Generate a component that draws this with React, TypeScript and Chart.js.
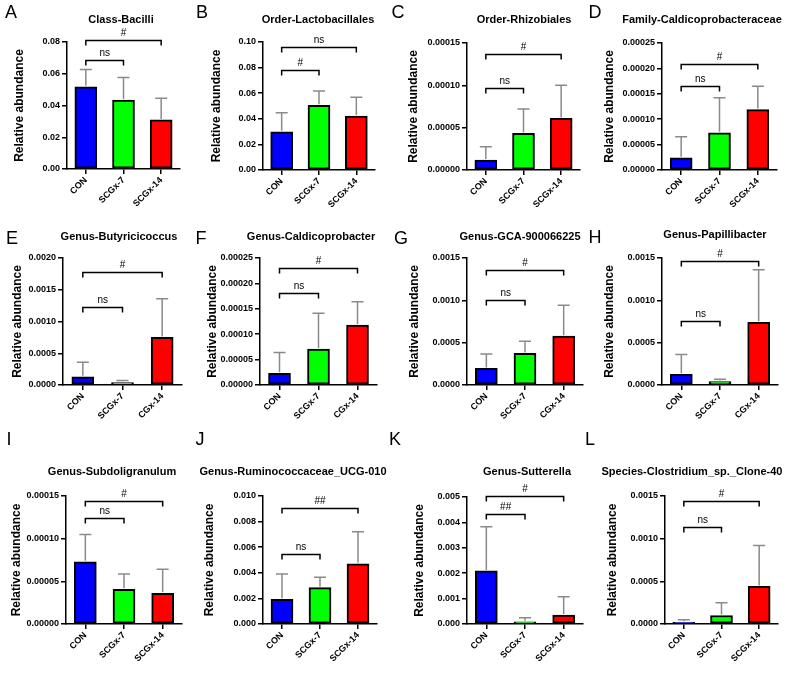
import React, { useEffect, useRef } from 'react';
import { Chart, registerables } from 'chart.js';
Chart.register(...registerables);

const FONT = "Arial, 'Liberation Sans', Helvetica, sans-serif";

// ---- categories ----
const groups = ['CON', 'SCGx-7', 'SCGx-14'];
const groupsAlt = ['CON', 'SCGx-7', 'CGx-14'];
const barColors = ['#0000FF', '#00FF00', '#FF0000'];

// ---- panel letters & titles ----
const letters = ['A', 'B', 'C', 'D', 'E', 'F', 'G', 'H', 'I', 'J', 'K', 'L'];
const titles = [
  'Class-Bacilli',
  'Order-Lactobacillales',
  'Order-Rhizobiales',
  'Family-Caldicoprobacteraceae',
  'Genus-Butyricicoccus',
  'Genus-Caldicoprobacter',
  'Genus-GCA-900066225',
  'Genus-Papillibacter',
  'Genus-Subdoligranulum',
  'Genus-Ruminococcaceae_UCG-010',
  'Genus-Sutterella',
  'Species-Clostridium_sp._Clone-40',
];

// ---- series values (mean) and SD ----
const meanA = [0.0518, 0.0434, 0.0309];
const sdA = [0.0109, 0.0143, 0.0136];
const meanB = [0.0299, 0.0506, 0.0421];
const sdB = [0.0148, 0.0112, 0.0148];
const meanC = [0.0000118, 0.0000432, 0.0000609];
const sdC = [0.0000157, 0.0000287, 0.0000391];
const meanD = [0.0000242, 0.0000733, 0.000119];
const sdD = [0.0000412, 0.0000687, 0.000046];
const meanE = [0.00013, 0.00004, 0.00075];
const sdE = [0.00023, 0.00003, 0.00061];
const meanF = [0.0000229, 0.0000707, 0.000118];
const sdF = [0.0000412, 0.0000703, 0.000046];
const meanG = [0.000196, 0.000373, 0.000577];
const sdG = [0.000169, 0.000145, 0.000365];
const meanH = [0.000126, 0.00004, 0.00074];
const sdH = [0.000234, 0.000027, 0.00062];
const meanI = [0.000073, 0.0000406, 0.0000359];
const sdI = [0.000032, 0.000018, 0.0000282];
const meanJ = [0.00193, 0.00284, 0.0047];
const sdJ = [0.00197, 0.00081, 0.0025];
const meanK = [0.00209, 0.00009, 0.00035];
const sdK = [0.00174, 0.00016, 0.00072];
const meanL = [0.00002, 0.0001, 0.00044];
const sdL = [0.00003, 0.00015, 0.00048];

// ---- y axis tick settings: [max, step, decimals] ----
const yMax = [0.08, 0.1, 0.00015, 0.00025, 0.002, 0.00025, 0.0015, 0.0015, 0.00015, 0.01, 0.005, 0.0015];
const yStep = [0.02, 0.02, 0.00005, 0.00005, 0.0005, 0.00005, 0.0005, 0.0005, 0.00005, 0.002, 0.001, 0.0005];
const yDecimals = [2, 2, 5, 5, 4, 5, 4, 4, 5, 3, 3, 4];

// ---- significance brackets: [fromIndex, toIndex, level, label] ----
const bracketsA = [[0, 1, 0.0685, 'ns'], [0, 2, 0.081, '#']];
const bracketsB = [[0, 1, 0.0784, '#'], [0, 2, 0.0961, 'ns']];
const bracketsC = [[0, 1, 0.0000974, 'ns'], [0, 2, 0.0001374, '#']];
const bracketsD = [[0, 1, 0.000165, 'ns'], [0, 2, 0.000208, '#']];
const bracketsE = [[0, 1, 0.00123, 'ns'], [0, 2, 0.00178, '#']];
const bracketsF = [[0, 1, 0.000181, 'ns'], [0, 2, 0.00023, '#']];
const bracketsG = [[0, 1, 0.001, 'ns'], [0, 2, 0.00136, '#']];
const bracketsH = [[0, 1, 0.000758, 'ns'], [0, 2, 0.00147, '#']];
const bracketsI = [[0, 1, 0.000124, 'ns'], [0, 2, 0.000144, '#']];
const bracketsJ = [[0, 1, 0.00544, 'ns'], [0, 2, 0.00904, '##']];
const bracketsK = [[0, 1, 0.00435, '##'], [0, 2, 0.00504, '#']];
const bracketsL = [[0, 1, 0.00114, 'ns'], [0, 2, 0.00144, '#']];

const means = [meanA, meanB, meanC, meanD, meanE, meanF, meanG, meanH, meanI, meanJ, meanK, meanL];
const sds = [sdA, sdB, sdC, sdD, sdE, sdF, sdG, sdH, sdI, sdJ, sdK, sdL];
const brackets = [bracketsA, bracketsB, bracketsC, bracketsD, bracketsE, bracketsF, bracketsG, bracketsH, bracketsI, bracketsJ, bracketsK, bracketsL];
const labelSets = [groups, groups, groups, groups, groupsAlt, groupsAlt, groupsAlt, groupsAlt, groups, groups, groups, groups];

// ---- layout (page pixels) ----
const colLeft = [0, 195, 390, 585];
const colWidth = [195, 195, 195, 206];
const rowTop = [0, 220, 428];
const rowHeight = [220, 208, 245];
// plot area: [left, top, right, bottom]
const areas = [
  [67, 42, 180, 169], [263, 42, 375, 170], [467, 43, 580, 170], [662, 43, 777, 170],
  [63, 258, 182, 385], [260, 258, 377, 385], [467, 258, 583, 385], [662, 258, 778, 385],
  [66, 496, 182, 624], [263, 496, 377, 624], [467, 497, 583, 624], [665, 496, 778, 624],
];
const yTitleX = [20, 217, 414, 610, 18, 213, 415, 610, 17, 210, 420, 613];
const titlePos = [
  [121, 20], [318, 20], [524, 20], [702, 20],
  [119, 237], [311, 237], [520, 237], [715, 235],
  [112, 472], [293, 472], [527, 472], [692, 472],
];
const letterPos = [
  [11, 13], [202, 13], [398, 13], [595, 13],
  [12, 239], [201, 239], [401, 239], [595, 238],
  [9, 440], [200, 440], [395, 440], [590, 440],
];

const annotPlugin = {
  id: 'annot',
  afterDatasetsDraw(chart: any) {
    const o = chart.options.plugins.annot;
    if (!o) return;
    const ctx = chart.ctx;
    const xs = chart.scales.x;
    const ys = chart.scales.y;
    ctx.save();
    // error bars (upper only)
    ctx.strokeStyle = '#8a8a8a';
    ctx.lineWidth = 1.5;
    o.mean.forEach((m: number, i: number) => {
      const x = xs.getPixelForValue(i);
      const y0 = ys.getPixelForValue(m);
      const y1 = ys.getPixelForValue(m + o.sd[i]);
      ctx.beginPath();
      ctx.moveTo(x, y0 - 1);
      ctx.lineTo(x, y1);
      ctx.moveTo(x - 6, y1);
      ctx.lineTo(x + 6, y1);
      ctx.stroke();
    });
    // brackets
    ctx.strokeStyle = '#000';
    ctx.lineWidth = 1.5;
    ctx.fillStyle = '#000';
    ctx.textAlign = 'center';
    ctx.textBaseline = 'bottom';
    o.brackets.forEach((b: any) => {
      const xa = xs.getPixelForValue(b[0]);
      const xb = xs.getPixelForValue(b[1]);
      const y = Math.round(ys.getPixelForValue(b[2])) + 0.5;
      ctx.beginPath();
      ctx.moveTo(xa, y + 5);
      ctx.lineTo(xa, y);
      ctx.lineTo(xb, y);
      ctx.lineTo(xb, y + 5);
      ctx.stroke();
      ctx.font = `10px ${FONT}`;
      ctx.fillText(b[3], (xa + xb) / 2, y - 2);
    });
    ctx.restore();
  },
  afterDraw(chart: any) {
    const o = chart.options.plugins.annot;
    if (!o) return;
    const ctx = chart.ctx;
    ctx.save();
    ctx.fillStyle = '#000';
    ctx.textBaseline = 'middle';
    ctx.textAlign = 'center';
    ctx.font = `18px ${FONT}`;
    ctx.fillText(o.letter, o.letterX, o.letterY);
    ctx.font = `bold 11px ${FONT}`;
    ctx.fillText(o.title, o.titleX, o.titleY);
    ctx.restore();
  },
};

function Panel({ idx }: { idx: number }) {
  const ref = useRef<HTMLCanvasElement>(null);
  const col = idx % 4;
  const row = Math.floor(idx / 4);
  const left = colLeft[col];
  const top = rowTop[row];
  const w = colWidth[col];
  const h = rowHeight[row];

  useEffect(() => {
    const [aL, aT, aR, aB] = areas[idx];
    const titleHalf = 12 * 1.2 / 2;
    const padL = yTitleX[idx] - left - titleHalf;
    const yW = aL - left - padL;
    const xH = top + h - aB;
    const dec = yDecimals[idx];
    const chart = new Chart(ref.current as HTMLCanvasElement, {
      type: 'bar',
      data: {
        labels: labelSets[idx],
        datasets: [
          {
            data: means[idx],
            backgroundColor: barColors,
            borderColor: '#000',
            borderWidth: 2,
            borderSkipped: false,
            barThickness: 22,
          },
        ],
      },
      plugins: [annotPlugin],
      options: {
        responsive: false,
        animation: false,
        devicePixelRatio: 1,
        layout: { padding: { left: padL, top: aT - top, right: left + w - aR, bottom: 0 } },
        plugins: {
          legend: { display: false },
          tooltip: { enabled: false },
          annot: {
            mean: means[idx],
            sd: sds[idx],
            brackets: brackets[idx],
            letter: letters[idx],
            letterX: letterPos[idx][0] - left,
            letterY: letterPos[idx][1] - top,
            title: titles[idx],
            titleX: titlePos[idx][0] - left,
            titleY: titlePos[idx][1] - top,
          },
        } as any,
        scales: {
          x: {
            type: 'category',
            offset: true,
            grid: {
              display: true,
              offset: false,
              drawOnChartArea: false,
              drawTicks: true,
              tickLength: 5,
              color: '#000',
              lineWidth: 1.5,
            },
            border: { display: true, color: '#000', width: 1.5 },
            ticks: {
              autoSkip: false,
              minRotation: 45,
              maxRotation: 45,
              color: '#000',
              padding: 1,
              font: { family: FONT, size: 9, weight: 'bold' },
            },
            afterFit: (s: any) => {
              s.height = xH;
            },
          },
          y: {
            min: 0,
            max: yMax[idx],
            grid: {
              display: true,
              drawOnChartArea: false,
              drawTicks: true,
              tickLength: 5,
              color: '#000',
              lineWidth: 1.5,
            },
            border: { display: true, color: '#000', width: 1.5 },
            ticks: {
              stepSize: yStep[idx],
              color: '#000',
              padding: 2,
              font: { family: FONT, size: 9, weight: 'bold' },
              callback: (v: any) => Number(v).toFixed(dec),
            },
            title: {
              display: true,
              text: 'Relative abundance',
              color: '#000',
              padding: 0,
              font: { family: FONT, size: 12, weight: 'bold' },
            },
            afterFit: (s: any) => {
              s.width = yW;
            },
          },
        },
      } as any,
    });
    return () => chart.destroy();
  }, [idx]);

  return (
    <canvas
      ref={ref}
      width={w}
      height={h}
      style={{ position: 'absolute', left, top, width: w, height: h }}
    />
  );
}

export default function App() {
  return (
    <div
      style={{
        position: 'absolute',
        left: 0,
        top: 0,
        width: 791,
        height: 673,
        background: '#fff',
        overflow: 'hidden',
      }}
    >
      {letters.map((_, i) => (
        <Panel key={i} idx={i} />
      ))}
    </div>
  );
}
